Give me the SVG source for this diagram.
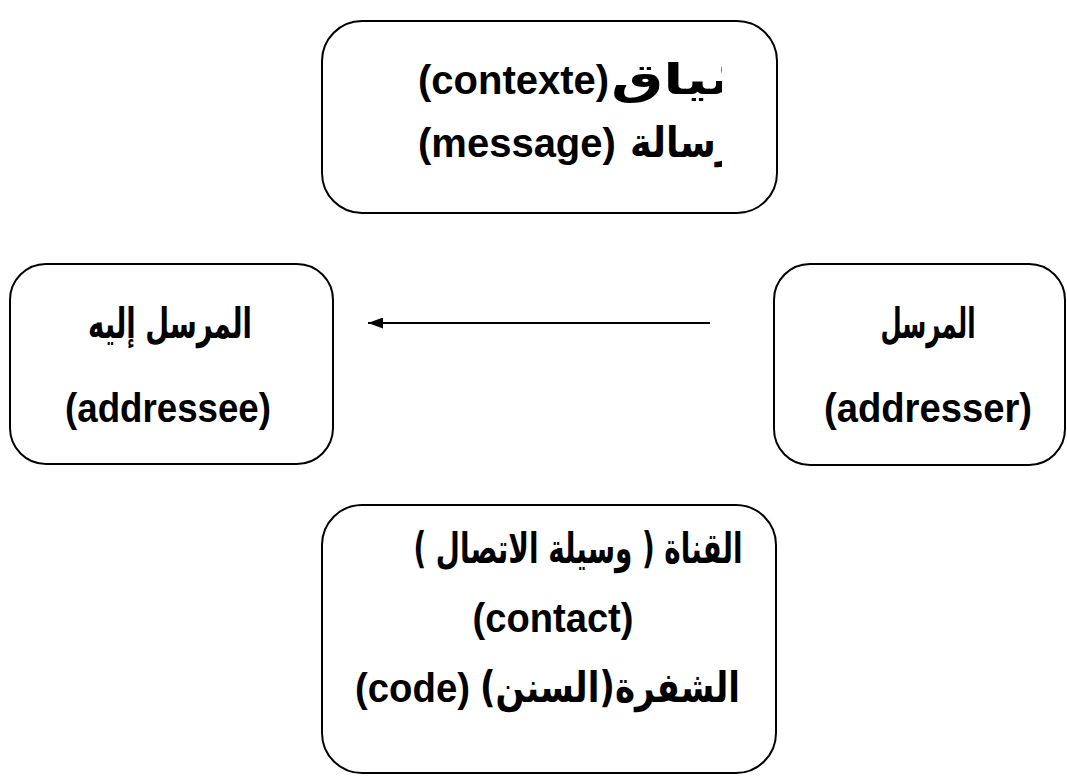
<svg xmlns="http://www.w3.org/2000/svg" width="1067" height="778" viewBox="0 0 1067 778">
  <style>
    .box { fill: #ffffff; stroke: #000000; stroke-width: 2; }
    .lat { font-family: "Liberation Sans", Arial, sans-serif; font-weight: bold; font-size: 40px; fill: #000000; }
    .ar { font-family: "DejaVu Sans Condensed", "DejaVu Sans", sans-serif; font-stretch: condensed; font-weight: bold; font-size: 42px; fill: #000000; direction: rtl; unicode-bidi: embed; }
    .mid { text-anchor: middle; }
    .conn { stroke: #000000; stroke-width: 2; fill: none; }
  </style>
  <defs>
    <marker id="arrowhead" markerWidth="15" markerHeight="11" refX="15" refY="5.5" orient="auto" markerUnits="userSpaceOnUse" viewBox="0 0 15 11">
      <path d="M0,0 L15,5.5 L0,11 Z" fill="#000000"/>
    </marker>
    <clipPath id="contextClip">
      <rect x="322" y="22" width="400" height="190"/>
    </clipPath>
  </defs>
  <rect width="1067" height="778" fill="#ffffff"/>

  <!-- context / message -->
  <g id="node-context">
    <rect class="box" x="322" y="21" width="455" height="192" rx="40" ry="40"/>
    <g clip-path="url(#contextClip)">
      <text class="lat" x="418" y="94">(contexte)</text>
      <text class="ar" x="611" y="94" text-anchor="end" textLength="200" lengthAdjust="spacingAndGlyphs">السّياق</text>
      <text class="lat" x="418" y="157">(message)</text>
      <text class="ar" x="630" y="157" text-anchor="end" textLength="135" lengthAdjust="spacingAndGlyphs">الرّسالة</text>
    </g>
  </g>

  <!-- addressee -->
  <g id="node-addressee">
    <rect class="box" x="10" y="264" width="323" height="200" rx="36" ry="36"/>
    <text class="ar mid" x="170" y="338" textLength="164" lengthAdjust="spacingAndGlyphs">المرسل إليه</text>
    <text class="lat mid" x="168" y="422" textLength="206" lengthAdjust="spacingAndGlyphs">(addressee)</text>
  </g>

  <!-- addresser -->
  <g id="node-addresser">
    <rect class="box" x="774" y="264" width="291" height="201" rx="36" ry="36"/>
    <text class="ar mid" x="928" y="338" textLength="95" lengthAdjust="spacingAndGlyphs">المرسل</text>
    <text class="lat mid" x="928" y="422" textLength="208" lengthAdjust="spacingAndGlyphs">(addresser)</text>
  </g>

  <!-- channel / contact / code -->
  <g id="node-contact">
    <rect class="box" x="322" y="505" width="454" height="268" rx="40" ry="40"/>
    <text class="ar mid" x="578" y="563" textLength="329" lengthAdjust="spacingAndGlyphs">القناة ( وسيلة الاتصال )</text>
    <text class="lat mid" x="553" y="632" textLength="161" lengthAdjust="spacingAndGlyphs">(contact)</text>
    <text class="lat" x="355" y="702" textLength="115" lengthAdjust="spacingAndGlyphs">(code)</text>
    <text class="ar" x="480" y="702" text-anchor="end" textLength="260" lengthAdjust="spacingAndGlyphs">الشفرة(السنن)</text>
  </g>

  <g id="connectors">
    <line class="conn" x1="710" y1="323" x2="368" y2="323" marker-end="url(#arrowhead)"/>
  </g>
</svg>
